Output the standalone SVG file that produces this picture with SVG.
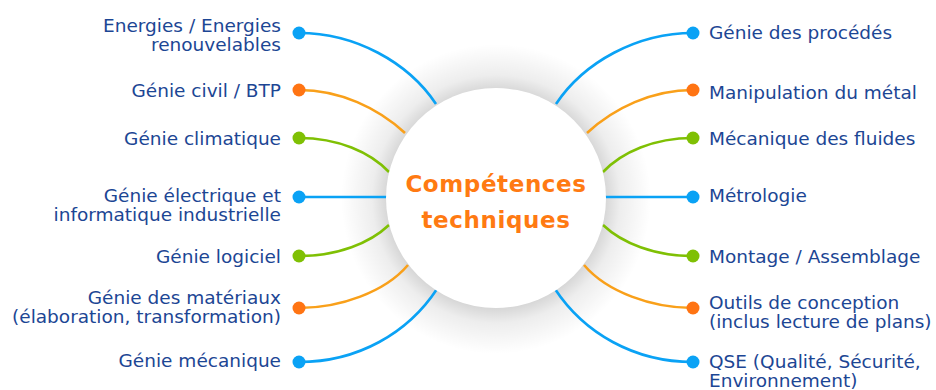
<svg xmlns="http://www.w3.org/2000/svg" width="936" height="390" viewBox="0 0 936 390">
<style>
.lbl{font-family:"DejaVu Sans","Liberation Sans",sans-serif;font-size:18.5px;fill:#1c4694}
.l{text-anchor:end}
.c{fill:none;stroke-width:2.6}
.b{stroke:#0aa2f5}.o{stroke:#f9a01a}.g{stroke:#7fc004}
.db{fill:#0aa2f5}.do{fill:#ff7413}.dg{fill:#7fc004}
.title{font-family:"DejaVu Sans","Liberation Sans",sans-serif;font-size:23px;font-weight:bold;fill:#ff7a12;text-anchor:middle;letter-spacing:0.6px}
</style>
<defs>
<radialGradient id="halo" cx="496" cy="199" r="155" gradientUnits="userSpaceOnUse">
<stop offset="0.68" stop-color="#000" stop-opacity="0.18"/>
<stop offset="0.8" stop-color="#000" stop-opacity="0.07"/>
<stop offset="1" stop-color="#000" stop-opacity="0"/>
</radialGradient>
</defs>
<rect width="936" height="390" fill="#fff"/>
<circle cx="496" cy="199" r="155" fill="url(#halo)"/>
<g id="connectors">
<path class="c b" d="M299,33 C355,33 408,62 436,104"/>
<path class="c o" d="M299,90 C340,90 378,108 405,133"/>
<path class="c g" d="M299,138 C338,138 370,152 389,172"/>
<path class="c b" d="M299,197 L390,197"/>
<path class="c g" d="M299,256 C338,256 370,243 389,225"/>
<path class="c o" d="M299,308 C340,308 385,292 408,265"/>
<path class="c b" d="M299,362 C358,362 408,333 437,289"/>
<path class="c b" d="M693,33 C637,33 584,62 556,104"/>
<path class="c o" d="M693,90 C652,90 614,108 587,133"/>
<path class="c g" d="M693,138 C654,138 622,152 603,172"/>
<path class="c b" d="M693,197 L602,197"/>
<path class="c g" d="M693,256 C654,256 622,243 603,225"/>
<path class="c o" d="M693,308 C652,308 607,292 584,265"/>
<path class="c b" d="M693,362 C634,362 584,333 555,289"/>
</g>
<g id="center">
<circle cx="496" cy="198" r="110" fill="#fff"/>
<text class="title" x="496" y="192">Compétences</text>
<text class="title" x="496" y="228">techniques</text>
</g>
<g id="n-energies"><circle class="db" cx="299" cy="33" r="6.5"/><text class="lbl l" x="281" y="32">Energies / Energies</text><text class="lbl l" x="281" y="51">renouvelables</text></g>
<g id="n-civil"><circle class="do" cx="299" cy="90" r="6.5"/><text class="lbl l" x="281" y="97">Génie civil / BTP</text></g>
<g id="n-climatique"><circle class="dg" cx="299" cy="138" r="6.5"/><text class="lbl l" x="281" y="145">Génie climatique</text></g>
<g id="n-electrique"><circle class="db" cx="299" cy="197" r="6.5"/><text class="lbl l" x="281" y="202">Génie électrique et</text><text class="lbl l" x="281" y="221">informatique industrielle</text></g>
<g id="n-logiciel"><circle class="dg" cx="299" cy="256" r="6.5"/><text class="lbl l" x="281" y="263">Génie logiciel</text></g>
<g id="n-materiaux"><circle class="do" cx="299" cy="308" r="6.5"/><text class="lbl l" x="281" y="304">Génie des matériaux</text><text class="lbl l" x="281" y="323">(élaboration, transformation)</text></g>
<g id="n-mecanique"><circle class="db" cx="299" cy="362" r="6.5"/><text class="lbl l" x="281" y="367">Génie mécanique</text></g>
<g id="n-procedes"><circle class="db" cx="693" cy="33" r="6.5"/><text class="lbl" x="709" y="39">Génie des procédés</text></g>
<g id="n-metal"><circle class="do" cx="693" cy="90" r="6.5"/><text class="lbl" x="709" y="99">Manipulation du métal</text></g>
<g id="n-fluides"><circle class="dg" cx="693" cy="138" r="6.5"/><text class="lbl" x="709" y="145">Mécanique des fluides</text></g>
<g id="n-metrologie"><circle class="db" cx="693" cy="197" r="6.5"/><text class="lbl" x="709" y="202">Métrologie</text></g>
<g id="n-montage"><circle class="dg" cx="693" cy="256" r="6.5"/><text class="lbl" x="709" y="263">Montage / Assemblage</text></g>
<g id="n-outils"><circle class="do" cx="693" cy="308" r="6.5"/><text class="lbl" x="709" y="309">Outils de conception</text><text class="lbl" x="709" y="328">(inclus lecture de plans)</text></g>
<g id="n-qse"><circle class="db" cx="693" cy="362" r="6.5"/><text class="lbl" x="709" y="368">QSE (Qualité, Sécurité,</text><text class="lbl" x="709" y="387">Environnement)</text></g>
</svg>
